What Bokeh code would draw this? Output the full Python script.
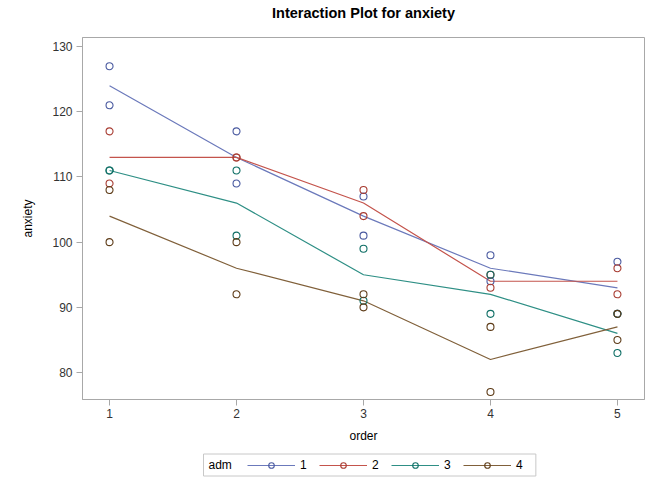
from bokeh.plotting import figure
from bokeh.models import Legend, LegendItem, Range1d, FixedTicker, Label
from bokeh.layouts import column
from bokeh.embed import file_html
from bokeh.resources import INLINE

orders = [1, 2, 3, 4, 5]
groups = ["1", "2", "3", "4"]

# two observations per cell (obs_a, obs_b) for each adm group
adm1_a = [127, 117, 107, 98, 97]
adm1_b = [121, 109, 101, 94, 89]
adm2_a = [117, 113, 108, 95, 96]
adm2_b = [109, 113, 104, 93, 92]
adm3_a = [111, 111, 99, 95, 89]
adm3_b = [111, 101, 91, 89, 83]
adm4_a = [108, 100, 92, 87, 89]
adm4_b = [100, 92, 90, 77, 85]

# cell means (lines)
adm1_mean = [124, 113, 104, 96, 93]
adm2_mean = [113, 113, 106, 94, 94]
adm3_mean = [111, 106, 95, 92, 86]
adm4_mean = [104, 96, 91, 82, 87]

obs = [(adm1_a, adm1_b), (adm2_a, adm2_b), (adm3_a, adm3_b), (adm4_a, adm4_b)]
means = [adm1_mean, adm2_mean, adm3_mean, adm4_mean]

line_colors = ["#6B79BB", "#C4544C", "#2E8F85", "#80603A"]
marker_colors = ["#4A5AA0", "#A83C32", "#0F6F66", "#5E3C18"]

FONT = "Liberation Sans"
W = 657
BL, BR = 82, 13  # shared left/right borders (frames are aligned in the column)

# ---- title strip ----
pt = figure(width=W, height=36, output_backend="svg", toolbar_location=None,
            x_range=Range1d(BL, W - BR), y_range=Range1d(0, 36),
            x_axis_location=None, y_axis_location=None,
            min_border_left=BL, min_border_right=BR, min_border_top=0, min_border_bottom=0)
pt.outline_line_color = None
pt.grid.visible = False
pt.add_layout(Label(x=363, y=24, text="Interaction Plot for anxiety", text_font=FONT,
                    text_font_size="14.5px", text_font_style="bold", text_color="#000000",
                    text_align="center", text_baseline="middle"))

# ---- main plot ----
p = figure(width=W, height=410, output_backend="svg", toolbar_location=None,
           x_range=Range1d(0.787, 5.213), y_range=Range1d(75.86, 131.4),
           min_border_left=BL, min_border_right=BR, min_border_top=1, min_border_bottom=47)

p.outline_line_color = "#A8A8A8"
p.xgrid.visible = False
p.ygrid.visible = False
p.background_fill_color = "white"
p.border_fill_color = "white"

for ax in (p.xaxis[0], p.yaxis[0]):
    ax.axis_line_color = "#A8A8A8"
    ax.major_tick_line_color = "#A8A8A8"
    ax.minor_tick_line_color = None
    ax.major_tick_out = 6
    ax.major_tick_in = 0
    ax.major_label_text_font = FONT
    ax.major_label_text_font_size = "12px"
    ax.major_label_text_color = "#333333"
    ax.axis_label_text_font = FONT
    ax.axis_label_text_font_size = "12px"
    ax.axis_label_text_font_style = "normal"
    ax.axis_label_text_color = "#000000"

p.xaxis.ticker = FixedTicker(ticks=orders)
p.yaxis.ticker = FixedTicker(ticks=[80, 90, 100, 110, 120, 130])
p.xaxis.axis_label = "order"
p.yaxis.axis_label = "anxiety"
p.xaxis.major_label_standoff = 3
p.xaxis.axis_label_standoff = 8
p.yaxis.major_label_standoff = 4
p.yaxis.axis_label_standoff = 14

for i, g in enumerate(groups):
    p.line(orders, means[i], line_color=line_colors[i], line_width=1.2)

for i, g in enumerate(groups):
    a, b = obs[i]
    p.scatter(orders + orders, a + b, marker="circle", size=7,
              fill_color=None, line_color=marker_colors[i], line_width=1.1)

# ---- legend strip ----
pl = figure(width=W, height=38, output_backend="svg", toolbar_location=None,
            x_range=Range1d(BL, W - BR), y_range=Range1d(0, 38),
            x_axis_location=None, y_axis_location=None,
            min_border_left=BL, min_border_right=BR, min_border_top=0, min_border_bottom=0)
pl.outline_line_color = None
pl.grid.visible = False

pl.add_layout(Label(x=203, y=19.5, text="adm", text_font=FONT, text_font_size="12px",
                    text_color="#000000", text_baseline="middle", text_align="left",
                    border_line_color="#C8C8C8", background_fill_color="white",
                    padding={"left": 5, "right": 304, "top": 4, "bottom": 4}))

# legend proxies: same series, but outside this strip's visible ranges
items = []
for i, g in enumerate(groups):
    lr = pl.line(orders, means[i], line_color=line_colors[i], line_width=1.2)
    sr = pl.scatter(orders, means[i], marker="circle", size=7, fill_color=None,
                    line_color=marker_colors[i], line_width=1.1)
    items.append(LegendItem(label=g, renderers=[lr, sr]))

legend = Legend(items=items, orientation="horizontal", location=(247 - BL, 12))
legend.label_text_font = FONT
legend.label_text_font_size = "12px"
legend.label_text_color = "#000000"
legend.label_width = 7
legend.label_height = 14
legend.glyph_width = 48
legend.glyph_height = 14
legend.label_standoff = 5
legend.spacing = 12
legend.padding = 0
legend.margin = 0
legend.border_line_color = None
legend.background_fill_alpha = 0
pl.add_layout(legend)

layout = column(pt, p, pl, spacing=0)
open("out.html", "w").write(file_html(layout, INLINE))
